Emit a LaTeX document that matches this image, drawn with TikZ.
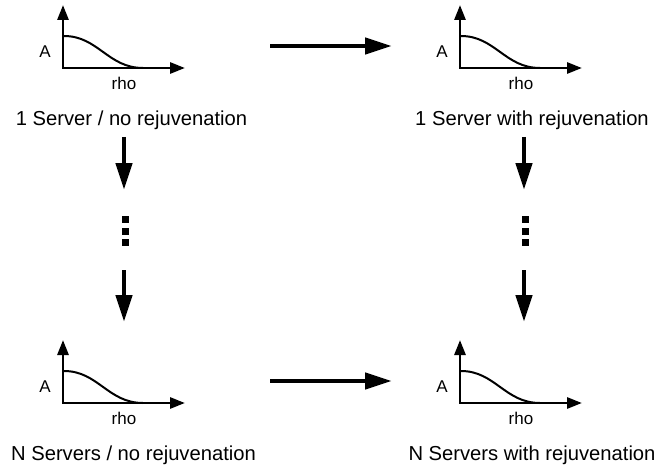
\documentclass[tikz,border=0pt]{standalone}
\usepackage{fontspec}
\setmainfont{Liberation Sans}
\usetikzlibrary{arrows.meta}

% one small availability-vs-load sketch with its origin at (#1,#2)
\newcommand\rateplot[2]{%
  \draw[axis] (#1,#2-63) -- (#1,#2) -- (#1+122,#2);
  \draw[curve] (#1+1,#2-32) .. controls (#1+35,#2-32) and (#1+45,#2) .. (#1+80,#2);
  \node[small] at (#1-18,#2-16) {A};
  \node[small] at (#1+61,#2+15) {rho};
}

\begin{document}
\begin{tikzpicture}[x=1pt,y=-1pt,
  axis/.style={line width=2.8pt, line join=miter,
    {Triangle[length=15pt,width=11pt]}-{Triangle[length=15pt,width=11pt]}},
  curve/.style={line width=2pt},
  flow/.style={line width=4.5pt, -{Triangle[length=27pt,width=16pt]}},
  caption/.style={font=\fontsize{20.2}{23}\selectfont, inner sep=0pt, anchor=base},
  small/.style={font=\fontsize{17}{20}\selectfont, inner sep=0pt},
  dot/.style={fill=black, minimum size=7pt, inner sep=0pt}]

\useasboundingbox (0,0) rectangle (661,468);

% the four sketches
\rateplot{63}{68}
\rateplot{460}{68}
\rateplot{63}{403}
\rateplot{460}{403}

% captions
\node[caption] (c11) at (131.5,126) {1 Server / no rejuvenation};
\node[caption] (c12) at (532,126) {1 Server with rejuvenation};
\node[caption] (cn1) at (133.5,460) {N Servers / no rejuvenation};
\node[caption] (cn2) at (532,460) {N Servers with rejuvenation};

% arrow end points
\coordinate (ht1) at (270,46);  \coordinate (ht2) at (392,46);
\coordinate (hb1) at (270,381); \coordinate (hb2) at (392,381);
\coordinate (la1) at (124,137); \coordinate (la2) at (124,190);
\coordinate (lb1) at (124,270); \coordinate (lb2) at (124,322);
\coordinate (ra1) at (524,137); \coordinate (ra2) at (524,190);
\coordinate (rb1) at (524,270); \coordinate (rb2) at (524,322);

\draw[flow] (ht1) -- (ht2);
\draw[flow] (hb1) -- (hb2);
\draw[flow] (la1) -- (la2);
\draw[flow] (lb1) -- (lb2);
\draw[flow] (ra1) -- (ra2);
\draw[flow] (rb1) -- (rb2);

% vertical ellipses
\node[dot] (ld1) at (125,219.5) {};
\node[dot] (ld2) at (125,231) {};
\node[dot] (ld3) at (125,242.5) {};
\node[dot] (rd1) at (525,219.5) {};
\node[dot] (rd2) at (525,231) {};
\node[dot] (rd3) at (525,242.5) {};

\end{tikzpicture}
\end{document}
